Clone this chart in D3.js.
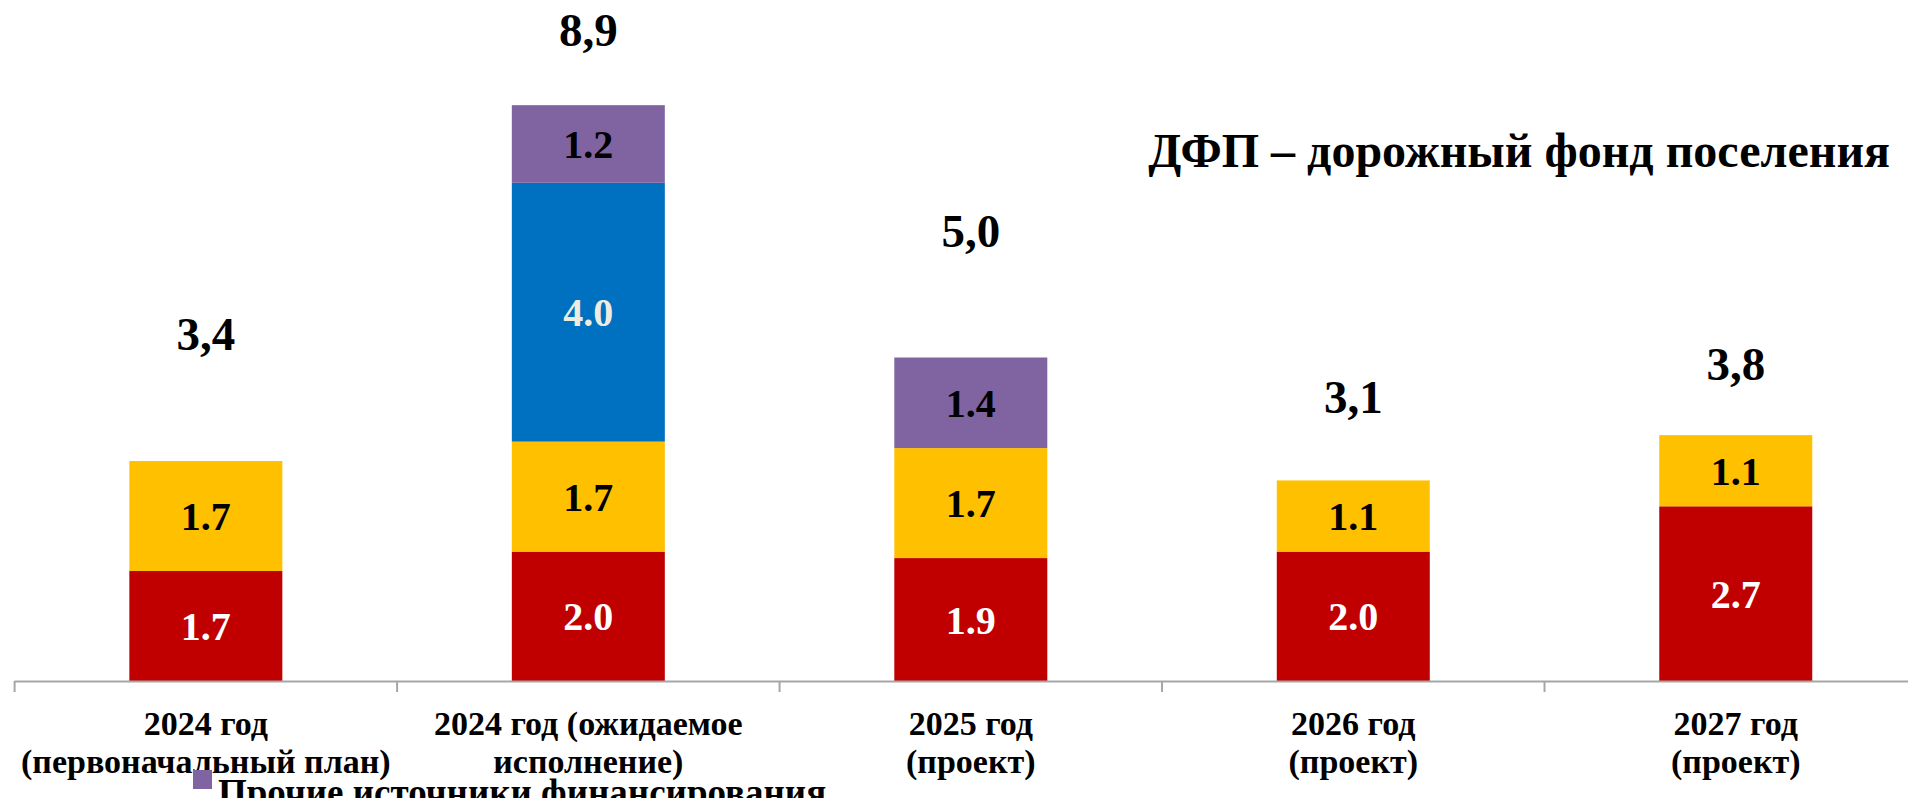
<!DOCTYPE html>
<html>
<head>
<meta charset="utf-8">
<script src="https://cdn.jsdelivr.net/npm/d3@7"></script>
<style>
  body { margin: 0; background: #fff; overflow: hidden; }
  svg text { font-family: "Liberation Serif", "Times New Roman", serif; font-weight: bold; }
</style>
</head>
<body>
<div id="chart"></div>
<script>
// categories (two lines each)
var categories = [
  ['2024 год', '(первоначальный план)'],
  ['2024 год (ожидаемое', 'исполнение)'],
  ['2025 год', '(проект)'],
  ['2026 год', '(проект)'],
  ['2027 год', '(проект)']
]
var redValues = [1.7, 2.0, 1.9, 2.0, 2.7]
var yellowValues = [1.7, 1.7, 1.7, 1.1, 1.1]
var blueValues = [0, 4.0, 0, 0, 0]
var otherValues = [0, 1.2, 1.4, 0, 0]
var totalLabels = ['3,4', '8,9', '5,0', '3,1', '3,8']
// where the total labels sit, in value units (they float above the bars)
var totalLabelPos = [5.12, 9.81, 6.71, 4.14, 4.65]
var titleText = 'ДФП – дорожный фонд поселения'
var legendText = 'Прочие источники финансирования'

var width = 1908
var height = 798
var baseY = 681

var svg = d3.select('#chart').append('svg')
  .attr('width', width)
  .attr('height', height)

var keys = ['red', 'yellow', 'blue', 'other']
var colors = { red: '#C00000', yellow: '#FFC000', blue: '#0070C0', other: '#8064A2' }
var labelColors = { red: '#ffffff', yellow: '#000000', blue: '#EEECE1', other: '#000000' }

var rows = categories.map(function(c, i) {
  return { idx: i, red: redValues[i], yellow: yellowValues[i], blue: blueValues[i], other: otherValues[i] }
})

var x = d3.scaleBand()
  .domain(d3.range(categories.length))
  .range([14.6, 1927])
  .paddingInner(0.6)
  .paddingOuter(0.3)

var y = d3.scaleLinear()
  .domain([0, 10])
  .range([baseY, baseY - 647])

var stack = d3.stack().keys(keys)
var series = stack(rows)

var groups = svg.selectAll('g.series')
  .data(series)
  .enter()
  .append('g')
  .attr('class', 'series')
  .attr('fill', function(d) { return colors[d.key] })

groups.selectAll('rect')
  .data(function(d) { return d.filter(function(p) { return p[1] - p[0] > 0 }) })
  .enter()
  .append('rect')
  .attr('x', function(d) { return x(d.data.idx) })
  .attr('width', x.bandwidth())
  .attr('y', function(d) { return y(d[1]) })
  .attr('height', function(d) { return y(d[0]) - y(d[1]) })

// segment value labels
series.forEach(function(s) {
  svg.append('g').selectAll('text')
    .data(s.filter(function(p) { return p[1] - p[0] > 0 }))
    .enter()
    .append('text')
    .attr('x', function(d) { return x(d.data.idx) + x.bandwidth() / 2 })
    .attr('y', function(d) { return y((d[0] + d[1]) / 2) })
    .attr('dy', '0.35em')
    .attr('text-anchor', 'middle')
    .attr('font-size', 40)
    .attr('fill', labelColors[s.key])
    .text(function(d) { return (d[1] - d[0]).toFixed(1) })
})

// totals above bars
svg.append('g').selectAll('text')
  .data(totalLabels)
  .enter()
  .append('text')
  .attr('x', function(d, i) { return x(i) + x.bandwidth() / 2 })
  .attr('y', function(d, i) { return y(totalLabelPos[i]) })
  .attr('text-anchor', 'middle')
  .attr('font-size', 47)
  .attr('fill', '#000')
  .text(function(d) { return d })

// category axis
var step = x.step()
var gap = step - x.bandwidth()
var axis = svg.append('g')
axis.append('line')
  .attr('x1', x(0) - gap / 2)
  .attr('x2', width)
  .attr('y1', baseY + 0.5)
  .attr('y2', baseY + 0.5)
  .attr('stroke', '#A6A6A6')
  .attr('stroke-width', 2)
axis.selectAll('line.tick')
  .data(d3.range(categories.length))
  .enter()
  .append('line')
  .attr('class', 'tick')
  .attr('x1', function(d) { return x(d) - gap / 2 })
  .attr('x2', function(d) { return x(d) - gap / 2 })
  .attr('y1', baseY)
  .attr('y2', baseY + 11)
  .attr('stroke', '#A6A6A6')
  .attr('stroke-width', 2)

var catLabels = axis.selectAll('text.cat')
  .data(categories)
  .enter()
  .append('text')
  .attr('class', 'cat')
  .attr('text-anchor', 'middle')
  .attr('font-size', 34)
  .attr('fill', '#000')
catLabels.each(function(d, i) {
  var t = d3.select(this)
  d.forEach(function(line, j) {
    t.append('tspan')
      .attr('x', x(i) + x.bandwidth() / 2)
      .attr('y', baseY + 54 + j * 38)
      .text(line)
  })
})

// title
svg.append('text')
  .attr('x', 1890)
  .attr('y', 167)
  .attr('text-anchor', 'end')
  .attr('font-size', 48)
  .text(titleText)

// legend (only the visible entry, clipped by the bottom edge like the original)
var legend = svg.append('g')
legend.append('rect')
  .attr('x', 193)
  .attr('y', 770)
  .attr('width', 19)
  .attr('height', 19)
  .attr('fill', colors.other)
legend.append('text')
  .attr('x', 218)
  .attr('y', 805)
  .attr('font-size', 37)
  .text(legendText)
</script>
</body>
</html>
